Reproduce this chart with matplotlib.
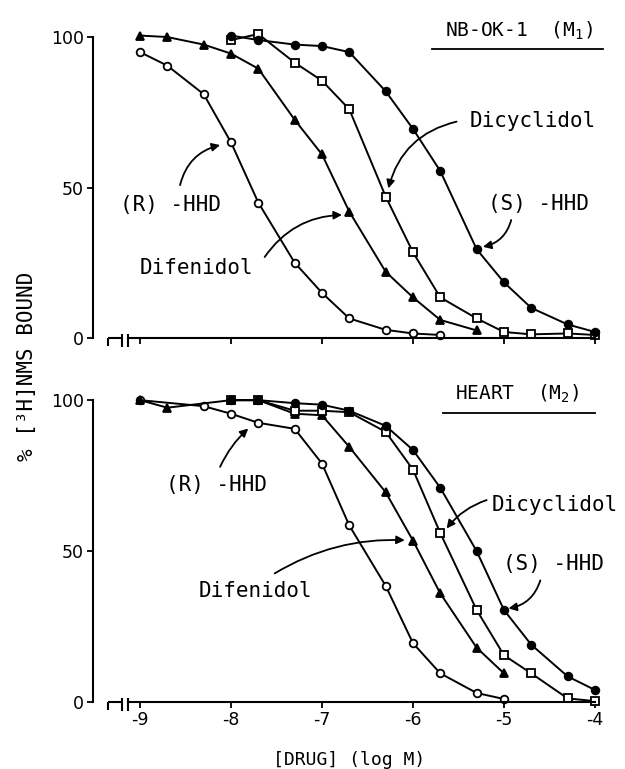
import numpy as np
import matplotlib.pyplot as plt

# log molar concentrations and % [3H]NMS bound
# --- upper panel: NB-OK-1 cells (M1)
top_r_hhd_x = [-9, -8.7, -8.3, -8, -7.7, -7.3, -7, -6.7, -6.3, -6, -5.7]
top_r_hhd_y = [95, 90.5, 81, 65, 45, 25, 15, 6.5, 2.7, 1.5, 1]
top_difenidol_x = [-9, -8.7, -8.3, -8, -7.7, -7.3, -7, -6.7, -6.3, -6, -5.7, -5.3]
top_difenidol_y = [100.5, 100, 97.5, 94.5, 89.5, 72.5, 61, 42, 22, 13.5, 6, 2.5]
top_dicyclidol_x = [-8, -7.7, -7.3, -7, -6.7, -6.3, -6, -5.7, -5.3, -5, -4.7, -4.3, -4]
top_dicyclidol_y = [99, 101, 91.5, 85.5, 76, 47, 28.5, 13.5, 6.5, 2, 1.2, 1.5, 1]
top_s_hhd_x = [-8, -7.7, -7.3, -7, -6.7, -6.3, -6, -5.7, -5.3, -5, -4.7, -4.3, -4]
top_s_hhd_y = [100.5, 99, 97.5, 97, 95, 82, 69.5, 55.5, 29.5, 18.5, 10, 4.5, 2]

# --- lower panel: heart (M2)
bot_r_hhd_x = [-9, -8.3, -8, -7.7, -7.3, -7, -6.7, -6.3, -6, -5.7, -5.3, -5]
bot_r_hhd_y = [100, 98, 95.5, 92.5, 90.5, 79, 58.5, 38.5, 19.5, 9.5, 3, 1]
bot_difenidol_x = [-9, -8.7, -8, -7.7, -7.3, -7, -6.7, -6.3, -6, -5.7, -5.3, -5]
bot_difenidol_y = [100, 97.5, 100, 100, 95.5, 95, 84.5, 69.5, 53.5, 36, 18, 9.5]
bot_dicyclidol_x = [-8, -7.7, -7.3, -7, -6.7, -6.3, -6, -5.7, -5.3, -5, -4.7, -4.3, -4]
bot_dicyclidol_y = [100, 100, 96.5, 96.5, 96, 89.5, 77, 56, 30.5, 15.5, 9.5, 1.2, 0.3]
bot_s_hhd_x = [-8, -7.7, -7.3, -7, -6.7, -6.3, -6, -5.7, -5.3, -5, -4.7, -4.3, -4]
bot_s_hhd_y = [100, 100, 99, 98.5, 96.5, 91.5, 83.5, 71, 50, 30.5, 19, 8.5, 4]

x_ticks = [-9, -8, -7, -6, -5, -4]
x_tick_labels = ["-9", "-8", "-7", "-6", "-5", "-4"]
y_ticks = [0, 50, 100]

MONO = "DejaVu Sans Mono"


def style_axis(ax, show_labels):
    ax.set_xlim(-9.352, -3.9)
    ax.set_ylim(0, 106)
    for side in ("top", "right"):
        ax.spines[side].set_visible(False)
    ax.spines["left"].set_position(("outward", 10.8))
    ax.spines["left"].set_bounds(0, 100)
    ax.spines["bottom"].set_bounds(-9.132, -4)
    for side in ("left", "bottom"):
        ax.spines[side].set_linewidth(1.5)
    ax.set_xticks(x_ticks)
    ax.set_yticks(y_ticks)
    ax.set_yticklabels([str(v) for v in y_ticks])
    ax.tick_params(axis="both", direction="out", length=4.5, width=1.3,
                   labelsize=12.5, pad=2)
    if show_labels:
        ax.set_xticklabels(x_tick_labels)
    else:
        ax.set_xticklabels([])
    # axis break at the left end of the x axis
    kw = dict(color="k", lw=1.5, clip_on=False, solid_capstyle="butt")
    ax.plot([-9.352, -9.198], [0, 0], **kw)
    ax.plot([-9.352, -9.352], [0, -2.8], **kw)
    ax.plot([-9.198, -9.198], [1.2, -3.0], **kw)
    ax.plot([-9.132, -9.132], [1.2, -3.0], **kw)


def draw_series(ax, x, y, marker, filled):
    ax.plot(x, y, color="k", lw=1.4, marker=marker, ms=5.5,
            mfc="k" if filled else "white", mec="k", mew=1.3, clip_on=False)


def label(ax, text, pos, tail, tip, rad, size=15):
    ax.text(pos[0], pos[1], text, ha="center", va="center",
            family=MONO, fontsize=size)
    ax.annotate("", xy=tip, xytext=tail,
                arrowprops=dict(arrowstyle="-|>", color="k", lw=1.3,
                                mutation_scale=12, shrinkA=0, shrinkB=0,
                                connectionstyle=f"arc3,rad={rad}"))


fig = plt.figure(figsize=(6.25, 7.69), dpi=100)
ax_top = fig.add_axes([0.1728, 0.5605, 0.7936, 0.4148])
ax_bot = fig.add_axes([0.1728, 0.0871, 0.7936, 0.4161])

style_axis(ax_top, False)
style_axis(ax_bot, True)

draw_series(ax_top, top_r_hhd_x, top_r_hhd_y, "o", False)
draw_series(ax_top, top_difenidol_x, top_difenidol_y, "^", True)
draw_series(ax_top, top_dicyclidol_x, top_dicyclidol_y, "s", False)
draw_series(ax_top, top_s_hhd_x, top_s_hhd_y, "o", True)

draw_series(ax_bot, bot_r_hhd_x, bot_r_hhd_y, "o", False)
draw_series(ax_bot, bot_difenidol_x, bot_difenidol_y, "^", True)
draw_series(ax_bot, bot_dicyclidol_x, bot_dicyclidol_y, "s", False)
draw_series(ax_bot, bot_s_hhd_x, bot_s_hhd_y, "o", True)

# upper panel labels
ax_top.text(-4.835, 102, "NB-OK-1  (M$_\\mathregular{1}$)", ha="center",
            va="center", family=MONO, fontsize=14)
ax_top.plot([-5.79, -3.91], [96, 96], color="k", lw=1.3, clip_on=False)
label(ax_top, "(R) -HHD", (-8.67, 44.2), (-8.56, 50.8), (-8.12, 64.1), -0.3)
label(ax_top, "Difenidol", (-8.38, 23.3), (-7.63, 26.9), (-6.78, 40.9), -0.25)
label(ax_top, "Dicyclidol", (-4.68, 72.1), (-5.52, 71.9), (-6.27, 49.7), 0.3)
label(ax_top, "(S) -HHD", (-4.62, 44.5), (-4.92, 39.2), (-5.23, 30.3), -0.3)

# lower panel labels
ax_bot.text(-4.85, 102, "HEART  (M$_\\mathregular{2}$)", ha="center",
            va="center", family=MONO, fontsize=14)
ax_bot.plot([-5.67, -4.0], [95.7, 95.7], color="k", lw=1.3, clip_on=False)
label(ax_bot, "(R) -HHD", (-8.16, 71.9), (-8.12, 77.9), (-7.81, 90.6), -0.1)
label(ax_bot, "Difenidol", (-7.73, 36.8), (-7.52, 42.6), (-6.09, 53.6), -0.15)
label(ax_bot, "Dicyclidol", (-4.44, 65.2), (-5.19, 66.9), (-5.63, 57.5), 0.15)
label(ax_bot, "(S) -HHD", (-4.45, 45.7), (-4.60, 40.3), (-4.95, 31.0), -0.3)

fig.text(0.5584, 0.0117, "[DRUG] (log M)", ha="center", va="center",
         family=MONO, fontsize=13)
fig.text(0.043, 1 - 366 / 769, "% [³H]NMS BOUND", ha="center", va="center",
         rotation=90, family=MONO, fontsize=15)

fig.savefig("out.png", dpi=100)
